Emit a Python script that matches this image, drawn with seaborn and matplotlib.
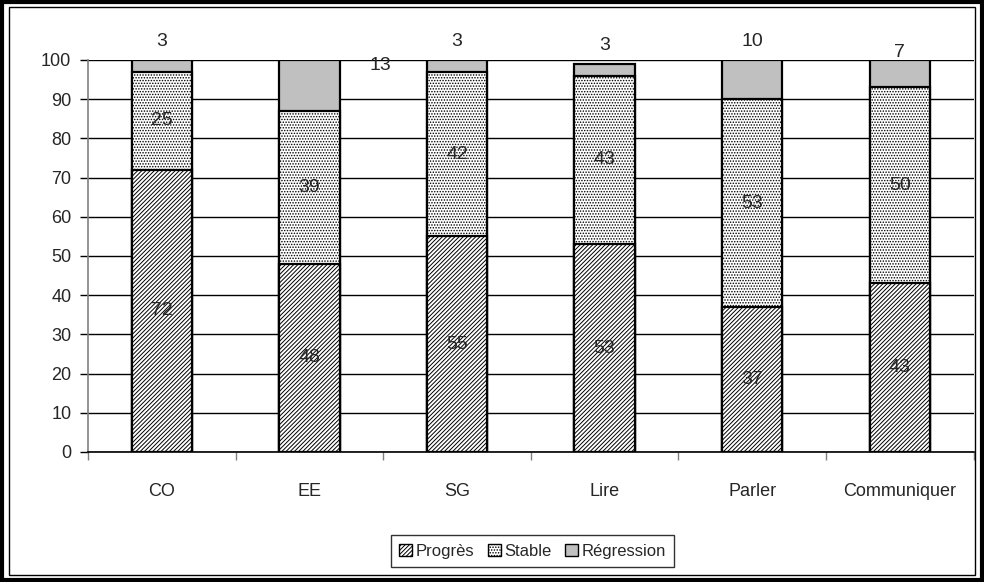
import numpy as np
import pandas as pd
import matplotlib
matplotlib.use("Agg")
import matplotlib.pyplot as plt
import seaborn as sns
from matplotlib.patches import Patch, Rectangle

# ── Data ──────────────────────────────────────────────────────────────────────
categories = ["CO", "EE", "SG", "Lire", "Parler", "Communiquer"]
progres    = [72, 48, 55, 53, 37, 43]
stable     = [25, 39, 42, 43, 53, 50]
regression = [3, 13, 3, 3, 10, 7]

df = pd.DataFrame({"cat": categories, "Progrès": progres,
                   "Stable": stable, "Régression": regression})
df["ps"] = df["Progrès"] + df["Stable"]
df["total"] = df["ps"] + df["Régression"]

# ── Style ─────────────────────────────────────────────────────────────────────
sns.set_style("white")
plt.rcParams["font.family"] = ["Liberation Sans", "DejaVu Sans"]
plt.rcParams["hatch.color"] = "#606060"
plt.rcParams["hatch.linewidth"] = 0.7

fig = plt.figure(figsize=(9.84, 5.82), dpi=100)
ax = fig.add_axes([0.0894, 0.2234, 0.9, 0.6736])

W = 0.41
HATCH_P = "////////"
HATCH_S = "......"
EDGE = dict(edgecolor="black", linewidth=1.6)
sns.barplot(data=df, x="cat", y="total", color="#c0c0c0", width=W,
            saturation=1, ax=ax, **EDGE)
sns.barplot(data=df, x="cat", y="ps", color="white", width=W,
            saturation=1, hatch=HATCH_S, ax=ax, **EDGE)
sns.barplot(data=df, x="cat", y="Progrès", color="white", width=W,
            saturation=1, hatch=HATCH_P, ax=ax, **EDGE)

# ── Labels ────────────────────────────────────────────────────────────────────
fs = 14
for i, row in df.iterrows():
    ax.text(i, row["Progrès"] / 2, str(row["Progrès"]), ha="center",
            va="center", fontsize=fs)
    ax.text(i, row["Progrès"] + row["Stable"] / 2, str(row["Stable"]),
            ha="center", va="center", fontsize=fs)
    r = row["Régression"]
    if row["cat"] == "EE":
        ax.text(i + W / 2 + 0.2, row["total"] - 1.5, str(r), ha="left",
                va="center", fontsize=fs)
    elif row["cat"] == "Communiquer":
        ax.text(i, row["total"] + 1.8, str(r), ha="center", va="center",
                fontsize=fs)
    else:
        ax.text(i, row["total"] + 4.7, str(r), ha="center", va="center",
                fontsize=fs)

# ── Axes ──────────────────────────────────────────────────────────────────────
ax.set_ylim(0, 100)
ax.set_xlim(-0.5, len(categories) - 0.5)
ax.set_yticks(np.arange(0, 101, 10))
ax.yaxis.grid(True, color="black", linewidth=1.0)
ax.set_axisbelow(True)
ax.set_xlabel("")
ax.set_ylabel("")
for s in ["top", "right"]:
    ax.spines[s].set_visible(False)
ax.spines["left"].set_color("#808080")
ax.spines["bottom"].set_color("black")
ax.spines["left"].set_linewidth(1.2)
ax.spines["bottom"].set_linewidth(1.2)

ax.tick_params(axis="y", length=6, width=1.0, color="black", direction="out",
               labelsize=13, pad=6, left=True)
ax.set_xticks(np.arange(-0.5, len(categories), 1.0), minor=True)
ax.tick_params(axis="x", which="minor", length=6, width=1.0, color="#808080",
               direction="out", bottom=True)
ax.tick_params(axis="x", which="major", length=0, labelsize=13, pad=22)

# ── Legend ────────────────────────────────────────────────────────────────────
handles = [
    Patch(facecolor="white", edgecolor="black", hatch=HATCH_P, label="Progrès"),
    Patch(facecolor="white", edgecolor="black", hatch=HATCH_S, label="Stable"),
    Patch(facecolor="#c0c0c0", edgecolor="black", label="Régression"),
]
leg = fig.legend(handles=handles, loc="center", bbox_to_anchor=(0.541, 0.053),
                 ncol=3, fontsize=12, frameon=True, fancybox=False,
                 handlelength=0.8, handleheight=0.8, handletextpad=0.2,
                 columnspacing=0.8, borderpad=0.5)
leg.get_frame().set_edgecolor("black")
leg.get_frame().set_linewidth(1.0)

# ── Outer frame ───────────────────────────────────────────────────────────────
fig.patches.append(Rectangle((0.002, 0.003), 0.996, 0.994, transform=fig.transFigure,
                             fill=False, edgecolor="black", linewidth=3))
fig.patches.append(Rectangle((0.009, 0.012), 0.982, 0.976, transform=fig.transFigure,
                             fill=False, edgecolor="black", linewidth=1))

plt.savefig("out.png", dpi=100)
plt.close()
